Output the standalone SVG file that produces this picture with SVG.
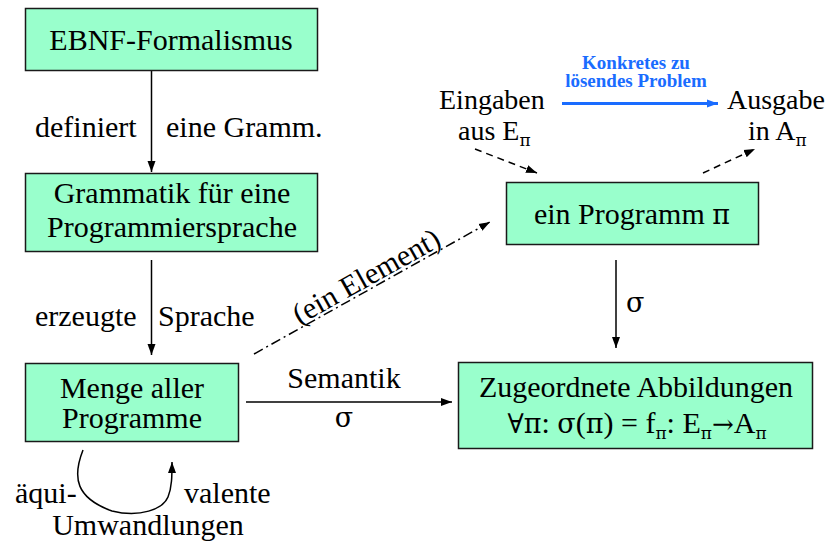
<svg xmlns="http://www.w3.org/2000/svg" width="830" height="547" viewBox="0 0 830 547">
<defs>
<style>
.box{fill:#99FFCC;stroke:#1a1a1a;stroke-width:1.5}
.ln{stroke:#000;stroke-width:1.5;fill:none}
</style>
<marker id="ah" markerUnits="userSpaceOnUse" markerWidth="12" markerHeight="12" viewBox="0 0 12 12" refX="11" refY="6" orient="auto">
<path d="M0,2 L11,6 L0,10 Z" fill="#000"/>
</marker>
<marker id="ahb" markerUnits="userSpaceOnUse" markerWidth="12" markerHeight="12" viewBox="0 0 12 12" refX="11" refY="6" orient="auto">
<path d="M0,2 L11,6 L0,10 Z" fill="#1a6cff"/>
</marker>
</defs>
<rect width="830" height="547" fill="#fff"/>

<g id="connectors">
<line class="ln" x1="151.5" y1="70" x2="151.5" y2="172" marker-end="url(#ah)"/>
<line class="ln" x1="151.5" y1="260" x2="151.5" y2="355" marker-end="url(#ah)"/>
<line class="ln" x1="616" y1="260" x2="616" y2="348" marker-end="url(#ah)"/>
<line class="ln" x1="246" y1="402" x2="452" y2="402" marker-end="url(#ah)"/>
<line class="ln" x1="254" y1="354" x2="490" y2="222" stroke-dasharray="10,4,2,4" marker-end="url(#ah)"/>
<line class="ln" x1="475" y1="149" x2="537" y2="173" stroke-dasharray="7,5" marker-end="url(#ah)"/>
<line class="ln" x1="703" y1="173" x2="755" y2="149" stroke-dasharray="7,5" marker-end="url(#ah)"/>
<line x1="562" y1="103.5" x2="718" y2="103.5" stroke="#1a6cff" stroke-width="3" marker-end="url(#ahb)"/>
<path class="ln" d="M83,450 C72,478 76,498 112,511 C140,518 163,509 168,497 C172,487 172,476 172,462" marker-end="url(#ah)"/>
</g>

<g font-family="Liberation Serif" font-size="30" fill="#000">
<g id="n-ebnf">
<rect class="box" x="25.5" y="8.5" width="292" height="62"/>
<text text-anchor="middle" x="171" y="50">EBNF-Formalismus</text>
</g>

<g id="n-grammatik">
<rect class="box" x="25.5" y="173.5" width="292" height="78"/>
<text text-anchor="middle" x="172" y="203">Grammatik für eine</text>
<text text-anchor="middle" x="172" y="237">Programmiersprache</text>
</g>

<g id="n-menge">
<rect class="box" x="25.5" y="363.5" width="213" height="78"/>
<text text-anchor="middle" x="132" y="398">Menge aller</text>
<text text-anchor="middle" x="132" y="428">Programme</text>
</g>

<g id="n-programm">
<rect class="box" x="506.5" y="182.5" width="252" height="62"/>
<text text-anchor="middle" x="632" y="224">ein Programm <tspan font-family="DejaVu Serif" font-size="27">π</tspan></text>
</g>

<g id="n-abbildungen">
<rect class="box" x="458.5" y="362.5" width="354" height="86"/>
<text text-anchor="middle" x="636" y="397">Zugeordnete Abbildungen</text>
<text text-anchor="middle" x="637" y="433"><tspan font-family="DejaVu Serif" font-size="27">∀π</tspan>: <tspan font-family="DejaVu Serif" font-size="27">σ</tspan>(<tspan font-family="DejaVu Serif" font-size="27">π</tspan>) = f<tspan font-family="DejaVu Serif" font-size="17" dy="6">π</tspan><tspan dy="-6">: E</tspan><tspan font-family="DejaVu Serif" font-size="17" dy="6">π</tspan><tspan dy="-6" font-family="DejaVu Serif" font-size="26">→</tspan><tspan>A</tspan><tspan font-family="DejaVu Serif" font-size="17" dy="6">π</tspan></text>
</g>

<g id="labels">
<text x="35" y="137">definiert</text>
<text x="166" y="137">eine Gramm.</text>
<text x="35" y="326">erzeugte</text>
<text x="158" y="326">Sprache</text>
<text text-anchor="middle" x="344" y="388">Semantik</text>
<text text-anchor="middle" x="344" y="427" font-family="DejaVu Serif" font-size="27">σ</text>
<text x="626" y="312" font-family="DejaVu Serif" font-size="27">σ</text>
<text text-anchor="middle" transform="translate(371,285) rotate(-29.2)">(ein Element)</text>
<text x="15" y="503">äqui-</text>
<text x="184" y="503">valente</text>
<text text-anchor="middle" x="148" y="535">Umwandlungen</text>
<text x="439" y="109" font-size="28">Eingaben</text>
<text x="458" y="140" font-size="28">aus E<tspan font-family="DejaVu Serif" font-size="17" dy="6">π</tspan></text>
<text x="727" y="109" font-size="28">Ausgabe</text>
<text x="748" y="140" font-size="28">in A<tspan font-family="DejaVu Serif" font-size="17" dy="6">π</tspan></text>
<text x="636" y="69" font-size="19" font-weight="bold" fill="#1a6cff" text-anchor="middle">Konkretes zu</text>
<text x="636" y="87" font-size="19" font-weight="bold" fill="#1a6cff" text-anchor="middle">lösendes Problem</text>
</g>
</g>
</svg>
